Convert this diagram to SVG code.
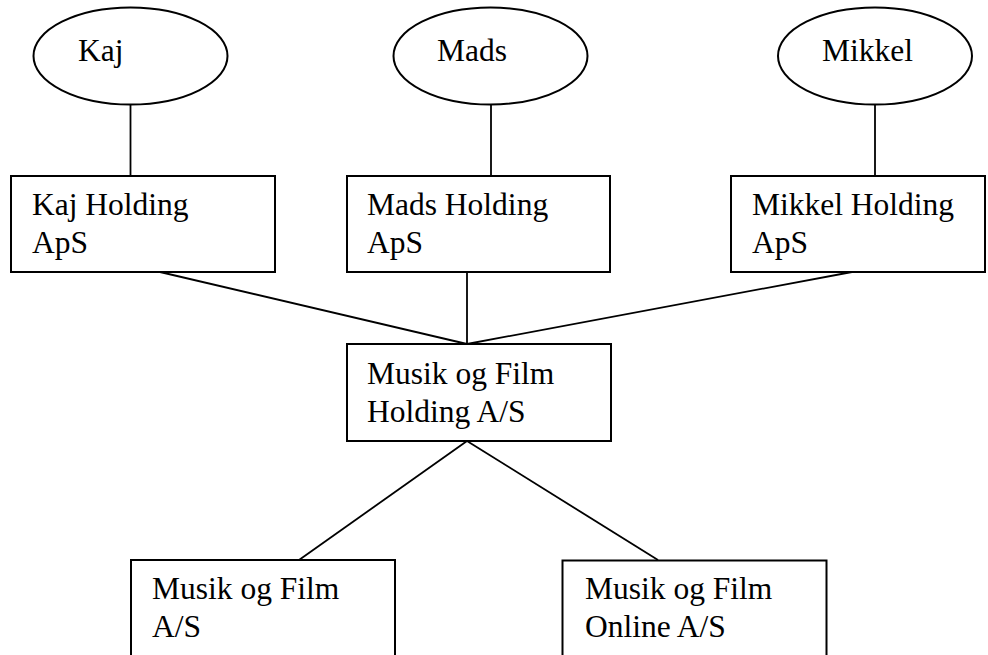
<svg xmlns="http://www.w3.org/2000/svg" width="988" height="655" viewBox="0 0 988 655">
  <style>
    .shape { fill: #ffffff; stroke: #000000; stroke-width: 2; }
    .link { stroke: #000000; stroke-width: 1.8; fill: none; }
    text { font-family: "Liberation Serif", "Times New Roman", serif; font-size: 31.5px; fill: #000000; }
  </style>
  <rect width="988" height="655" fill="#ffffff"/>

  <!-- connectors -->
  <g id="connectors">
    <line class="link" x1="130.5" y1="104" x2="130.5" y2="176"/>
    <line class="link" x1="491" y1="104" x2="491" y2="176"/>
    <line class="link" x1="875" y1="104" x2="875" y2="176"/>
    <line class="link" x1="160" y1="272" x2="467" y2="344"/>
    <line class="link" x1="467" y1="272" x2="467" y2="344"/>
    <line class="link" x1="852" y1="272" x2="467" y2="344"/>
    <line class="link" x1="467" y1="441" x2="299" y2="560"/>
    <line class="link" x1="467" y1="441" x2="658" y2="560"/>
  </g>

  <!-- owners -->
  <g id="kaj">
    <ellipse class="shape" cx="130.5" cy="56" rx="97" ry="48.5"/>
    <text x="78" y="61">Kaj</text>
  </g>
  <g id="mads">
    <ellipse class="shape" cx="490.5" cy="56" rx="97" ry="48.5"/>
    <text x="437" y="61">Mads</text>
  </g>
  <g id="mikkel">
    <ellipse class="shape" cx="875" cy="56" rx="97" ry="48.5"/>
    <text x="822" y="61">Mikkel</text>
  </g>

  <!-- holding companies -->
  <g id="kaj-holding">
    <rect class="shape" x="11" y="176" width="264" height="96"/>
    <text x="32" y="215">Kaj Holding</text>
    <text x="32" y="253">ApS</text>
  </g>
  <g id="mads-holding">
    <rect class="shape" x="347" y="176" width="263" height="96"/>
    <text x="367" y="215">Mads Holding</text>
    <text x="367" y="253">ApS</text>
  </g>
  <g id="mikkel-holding">
    <rect class="shape" x="731" y="176" width="254" height="96"/>
    <text x="752" y="215">Mikkel Holding</text>
    <text x="752" y="253">ApS</text>
  </g>

  <!-- group parent -->
  <g id="musik-film-holding">
    <rect class="shape" x="347" y="344" width="264" height="97"/>
    <text x="367" y="384">Musik og Film</text>
    <text x="367" y="422">Holding A/S</text>
  </g>

  <!-- subsidiaries -->
  <g id="musik-film">
    <rect class="shape" x="131" y="560" width="264" height="110"/>
    <text x="152" y="599">Musik og Film</text>
    <text x="152" y="637">A/S</text>
  </g>
  <g id="musik-film-online">
    <rect class="shape" x="562.5" y="560.5" width="264" height="110"/>
    <text x="585" y="599">Musik og Film</text>
    <text x="585" y="637">Online A/S</text>
  </g>
</svg>
